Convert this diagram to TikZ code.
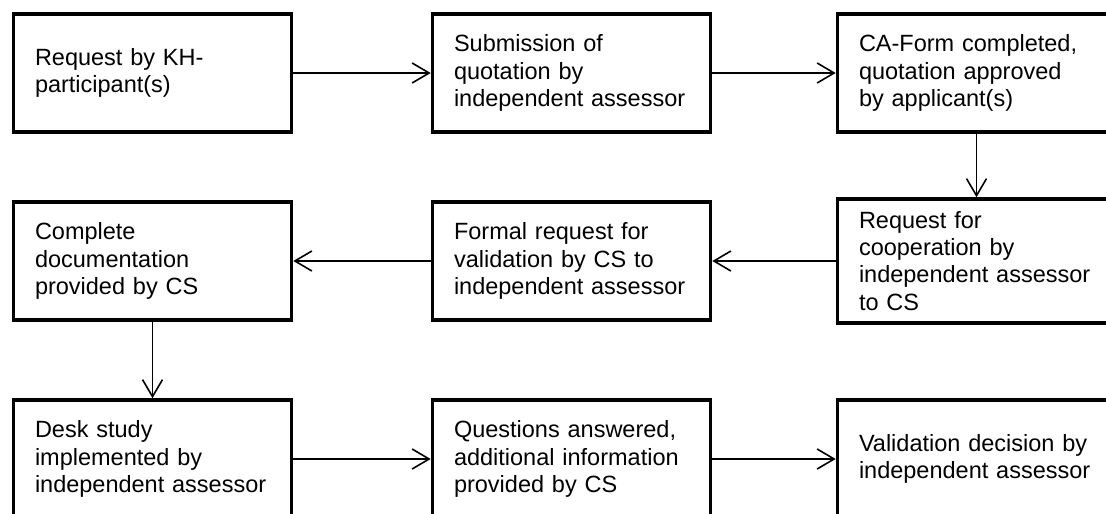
\documentclass[tikz,border=0pt]{standalone}
\usepackage{fontspec}
\setmainfont{Liberation Sans}
\usetikzlibrary{arrows.meta}
\begin{document}
\begin{tikzpicture}[x=0.5pt, y=-0.5pt,
    stepbox/.style={draw, line width=1.8pt, minimum width=139pt, minimum height=59pt,
      text width=117.5pt, align=left, inner xsep=10pt,
      font=\fontsize{11.75pt}{13.6pt}\selectfont},
    flow/.style={-{Straight Barb[length=8.5pt, width=10pt]}, line width=0.8pt}]
      \useasboundingbox (0,0) rectangle (1106,513);
      \clip (0,0) rectangle (1106,513);

      \node[stepbox] (req)   at (152.5,73) {Request by KH-\\participant(s)};
      \node[stepbox] (quote) at (571.5,73) {Submission of\\quotation by\\independent assessor};
      \node[stepbox] (form)  at (976.5,73) {CA-Form completed,\\quotation approved\\by applicant(s)};

      \node[stepbox] (docs)   at (152.5,261) {Complete\\documentation\\provided by CS};
      \node[stepbox] (formal) at (571.5,261) {Formal request for\\validation by CS to\\independent assessor};
      \node[stepbox, minimum height=62pt] (coop) at (976.5,261) {Request for\\cooperation by\\independent assessor\\to CS};

      \node[stepbox] (desk)     at (152.5,459) {Desk study\\implemented by\\independent assessor};
      \node[stepbox] (answers)  at (571.5,459) {Questions answered,\\additional information\\provided by CS};
      \node[stepbox] (decision) at (976.5,459) {Validation decision by\\independent assessor};

      \draw[flow] (req) -- (quote);
      \draw[flow] (quote) -- (form);
      \draw[flow] (form) -- (coop);
      \draw[flow] (coop) -- (formal);
      \draw[flow] (formal) -- (docs);
      \draw[flow] (docs) -- (desk);
      \draw[flow] (desk) -- (answers);
      \draw[flow] (answers) -- (decision);

    \end{tikzpicture}
\end{document}
